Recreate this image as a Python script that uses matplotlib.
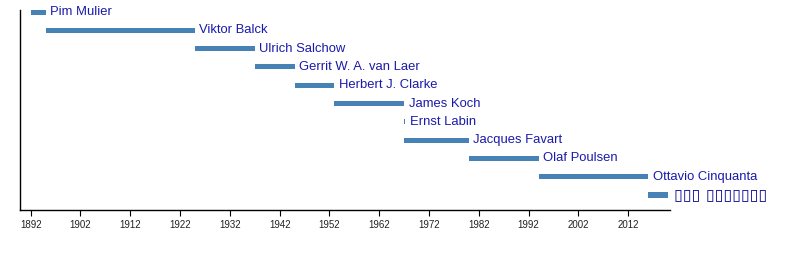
import matplotlib
matplotlib.use("Agg")
import matplotlib.pyplot as plt
import numpy as np

# ISU presidents timeline
names = [
    "Pim Mulier", "Viktor Balck", "Ulrich Salchow", "Gerrit W. A. van Laer",
    "Herbert J. Clarke", "James Koch", "Ernst Labin", "Jacques Favart",
    "Olaf Poulsen", "Ottavio Cinquanta", "\u25af\u25af\u25af \u25af\u25af\u25af\u25af\u25af\u25af\u25af",
]
start_year = [1892, 1895, 1925, 1937, 1945, 1953, 1967, 1967, 1980, 1994, 2016]
end_year = [1895, 1925, 1937, 1945, 1953, 1967, 1967.2, 1980, 1994, 2016, 2020]
tick_years = list(range(1892, 2013, 10))

BAR_COLOR = "#4682b4"
TEXT_COLOR = "#1a1aaa"

plt.rcParams["font.family"] = ["Liberation Sans", "DejaVu Sans"]

fig = plt.figure(figsize=(8, 2.6), dpi=100)
ax = fig.add_axes([0.025, 0.1923, 0.8125, 0.7692])

rows = np.arange(len(names))
widths = np.array(end_year) - np.array(start_year)
ax.barh(rows, widths, left=start_year, height=0.28, color=BAR_COLOR)
for r, name, e in zip(rows, names, end_year):
    if name.startswith("\u25af"):
        ax.text(e + 1.2, r, name, color="#10109a", fontsize=11.5,
                fontweight="bold", va="center", ha="left", family="DejaVu Sans")
    else:
        ax.text(e + 0.9, r, name, color=TEXT_COLOR, fontsize=9.4,
                va="center", ha="left")

ax.set_xlim(1889.85, 2020.4)
ax.set_ylim(10.82, -0.11)
ax.set_xticks(tick_years)
ax.set_xticklabels([str(y) for y in tick_years], fontsize=7, color="#222222")
ax.set_yticks([])
ax.tick_params(axis="x", length=4, width=0.8, pad=3)
for side in ["top", "right"]:
    ax.spines[side].set_visible(False)
ax.spines["left"].set_linewidth(1)
ax.spines["bottom"].set_linewidth(1)

fig.savefig("out.png", dpi=100)
